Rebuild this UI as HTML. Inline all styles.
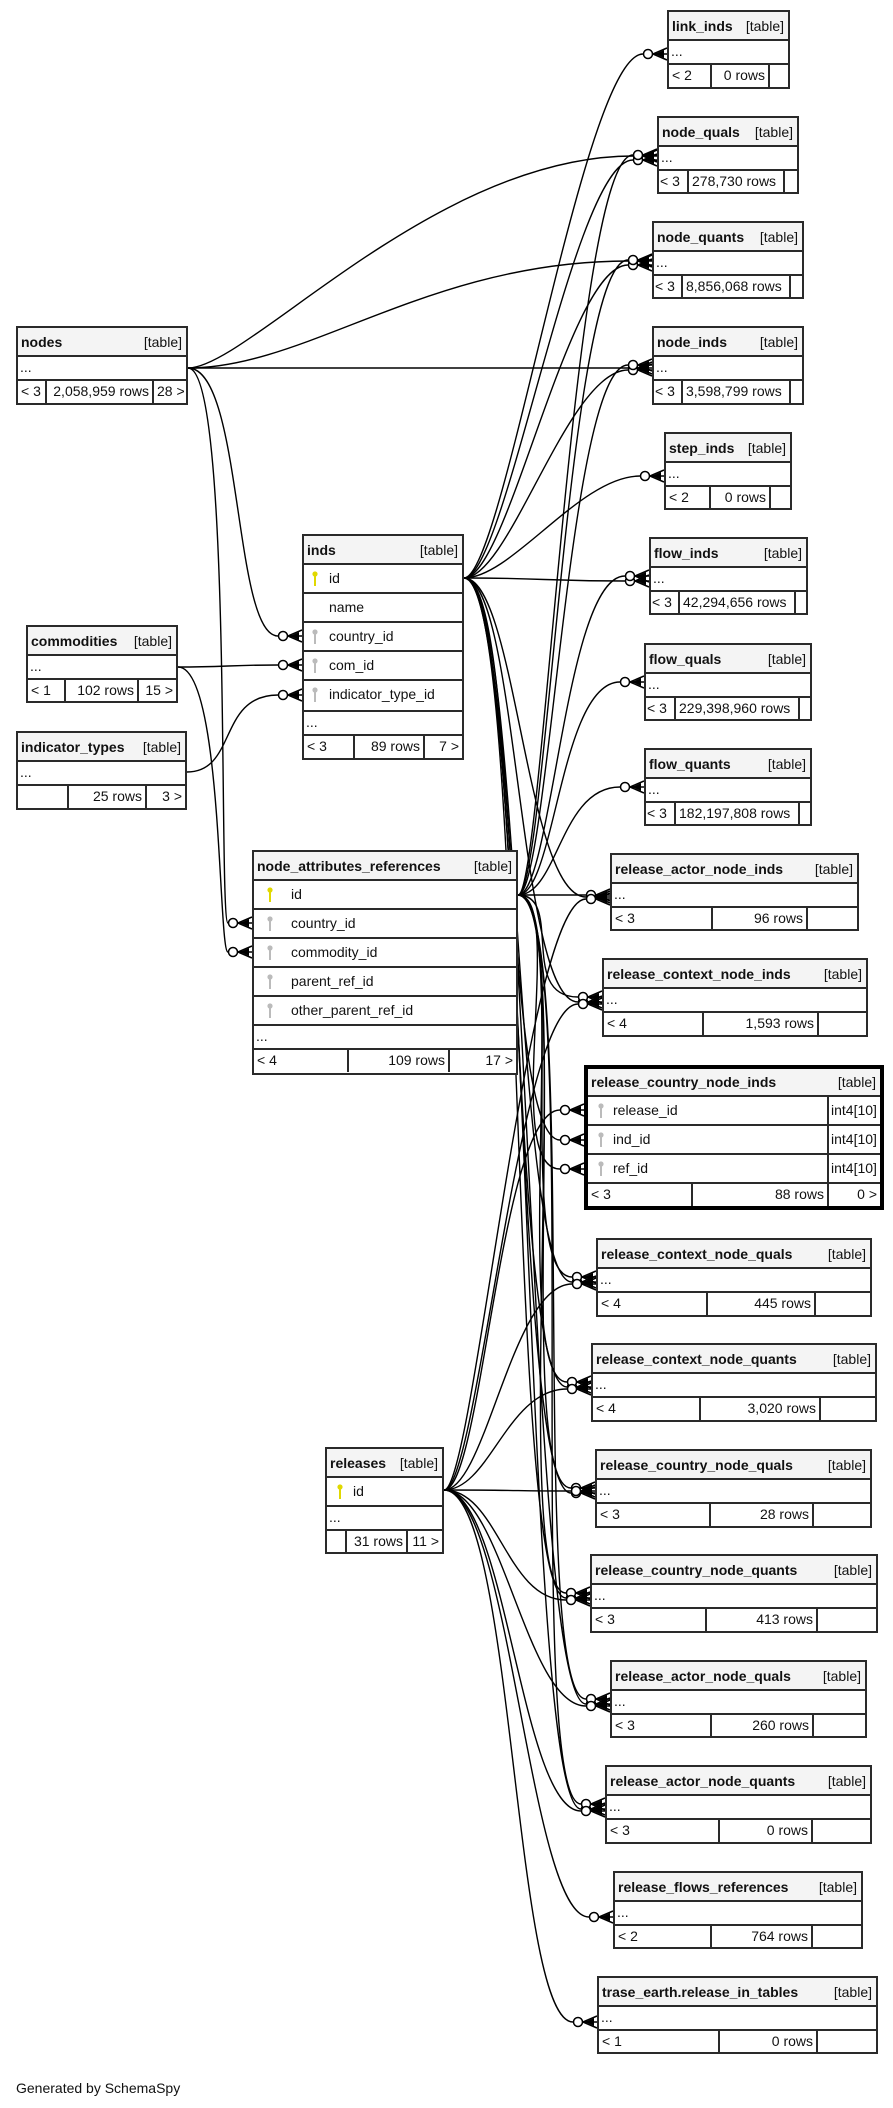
<!DOCTYPE html>
<html><head><meta charset="utf-8">
<style>
body{margin:0;background:#fff;width:893px;height:2108px;position:relative;overflow:hidden;font-family:"Liberation Sans",Arial,sans-serif;font-size:14px;color:#111}
svg{position:absolute;left:0;top:0}
.t{position:absolute;border:2px solid #2a2a2a;box-sizing:border-box;background:#fff}
.t.k{border:4px solid #000}
.h{height:27px;background:#f4f4f4;display:flex;justify-content:space-between;align-items:center;padding:0 4px 0 3px;box-sizing:border-box}
.h b{font-weight:bold}
.r{height:24px;border-top:2px solid #2a2a2a;box-sizing:border-box;padding-left:2px;line-height:20px;position:relative}
.c{height:29px;border-top:2px solid #2a2a2a;box-sizing:border-box;line-height:26px;position:relative}
.c .n{position:absolute;top:0}
.c .ty{position:absolute;top:0;bottom:0;border-left:2px solid #2a2a2a;padding-left:2px;box-sizing:border-box}
.f{height:24px;border-top:2px solid #2a2a2a;box-sizing:border-box;display:flex;line-height:21px}
.f span{box-sizing:border-box;padding:0 3px;white-space:nowrap;overflow:hidden}
.f span+span{border-left:2px solid #2a2a2a;text-align:right}
.key{position:absolute;top:6px;width:6px;height:16px}
</style></head><body>
<svg id="s" width="893" height="2108"></svg>

<!-- nodes -->
<div class="t" style="left:16px;top:326px;width:172px;height:79px"><div class="h"><b>nodes</b><span>[table]</span></div><div class="r">...</div><div class="f"><span style="width:27px">&lt; 3</span><span style="width:107px">2,058,959 rows</span><span style="flex:1">28 &gt;</span></div></div>

<!-- commodities -->
<div class="t" style="left:26px;top:625px;width:152px;height:78px"><div class="h"><b>commodities</b><span>[table]</span></div><div class="r">...</div><div class="f"><span style="width:36px;text-align:left">&lt; 1</span><span style="width:73px">102 rows</span><span style="flex:1">15 &gt;</span></div></div>

<!-- indicator_types -->
<div class="t" style="left:16px;top:731px;width:171px;height:79px"><div class="h"><b>indicator_types</b><span>[table]</span></div><div class="r">...</div><div class="f"><span style="width:49px"></span><span style="width:78px">25 rows</span><span style="flex:1">3 &gt;</span></div></div>

<!-- inds -->
<div class="t" style="left:302px;top:534px;width:162px;height:226px"><div class="h"><b>inds</b><span>[table]</span></div>
<div class="c"><svg class="key" style="left:8px" viewBox="0 0 6 16"><circle cx="3" cy="3" r="2.6" fill="#e0d800"/><rect x="2" y="4" width="2" height="11" fill="#e0d800"/></svg><span class="n" style="left:25px">id</span></div>
<div class="c"><span class="n" style="left:25px">name</span></div>
<div class="c"><svg class="key" style="left:8px" viewBox="0 0 6 16"><circle cx="3" cy="3" r="2.6" fill="#bbb"/><rect x="2" y="4" width="2" height="11" fill="#bbb"/></svg><span class="n" style="left:25px">country_id</span></div>
<div class="c"><svg class="key" style="left:8px" viewBox="0 0 6 16"><circle cx="3" cy="3" r="2.6" fill="#bbb"/><rect x="2" y="4" width="2" height="11" fill="#bbb"/></svg><span class="n" style="left:25px">com_id</span></div>
<div class="c" style="height:31px"><svg class="key" style="left:8px" viewBox="0 0 6 16"><circle cx="3" cy="3" r="2.6" fill="#bbb"/><rect x="2" y="4" width="2" height="11" fill="#bbb"/></svg><span class="n" style="left:25px">indicator_type_id</span></div>
<div class="r">...</div>
<div class="f"><span style="width:49px;text-align:left">&lt; 3</span><span style="width:70px">89 rows</span><span style="flex:1">7 &gt;</span></div></div>

<!-- node_attributes_references -->
<div class="t" style="left:252px;top:850px;width:266px;height:225px"><div class="h"><b>node_attributes_references</b><span>[table]</span></div>
<div class="c"><svg class="key" style="left:13px" viewBox="0 0 6 16"><circle cx="3" cy="3" r="2.6" fill="#e0d800"/><rect x="2" y="4" width="2" height="11" fill="#e0d800"/></svg><span class="n" style="left:37px">id</span></div>
<div class="c"><svg class="key" style="left:13px" viewBox="0 0 6 16"><circle cx="3" cy="3" r="2.6" fill="#bbb"/><rect x="2" y="4" width="2" height="11" fill="#bbb"/></svg><span class="n" style="left:37px">country_id</span></div>
<div class="c"><svg class="key" style="left:13px" viewBox="0 0 6 16"><circle cx="3" cy="3" r="2.6" fill="#bbb"/><rect x="2" y="4" width="2" height="11" fill="#bbb"/></svg><span class="n" style="left:37px">commodity_id</span></div>
<div class="c"><svg class="key" style="left:13px" viewBox="0 0 6 16"><circle cx="3" cy="3" r="2.6" fill="#bbb"/><rect x="2" y="4" width="2" height="11" fill="#bbb"/></svg><span class="n" style="left:37px">parent_ref_id</span></div>
<div class="c"><svg class="key" style="left:13px" viewBox="0 0 6 16"><circle cx="3" cy="3" r="2.6" fill="#bbb"/><rect x="2" y="4" width="2" height="11" fill="#bbb"/></svg><span class="n" style="left:37px">other_parent_ref_id</span></div>
<div class="r">...</div>
<div class="f"><span style="width:93px;text-align:left">&lt; 4</span><span style="width:101px">109 rows</span><span style="flex:1">17 &gt;</span></div></div>

<!-- releases -->
<div class="t" style="left:325px;top:1447px;width:119px;height:107px"><div class="h"><b>releases</b><span>[table]</span></div>
<div class="c"><svg class="key" style="left:10px" viewBox="0 0 6 16"><circle cx="3" cy="3" r="2.6" fill="#e0d800"/><rect x="2" y="4" width="2" height="11" fill="#e0d800"/></svg><span class="n" style="left:26px">id</span></div>
<div class="r">...</div>
<div class="f"><span style="width:18px"></span><span style="width:61px">31 rows</span><span style="flex:1">11 &gt;</span></div></div>

<!-- right side -->
<div class="t" style="left:667px;top:10px;width:123px;height:79px"><div class="h"><b>link_inds</b><span>[table]</span></div><div class="r">...</div><div class="f"><span style="width:41px;text-align:left">&lt; 2</span><span style="width:58px">0 rows</span><span style="flex:1"></span></div></div>

<div class="t" style="left:657px;top:116px;width:142px;height:78px"><div class="h"><b>node_quals</b><span>[table]</span></div><div class="r">...</div><div class="f"><span style="width:28px;padding:0 1px">&lt; 3</span><span style="width:96px;text-align:left">278,730 rows</span><span style="flex:1"></span></div></div>

<div class="t" style="left:652px;top:221px;width:152px;height:78px"><div class="h"><b>node_quants</b><span>[table]</span></div><div class="r">...</div><div class="f"><span style="width:27px;padding:0 1px">&lt; 3</span><span style="width:108px;text-align:left">8,856,068 rows</span><span style="flex:1"></span></div></div>

<div class="t" style="left:652px;top:326px;width:152px;height:79px"><div class="h"><b>node_inds</b><span>[table]</span></div><div class="r">...</div><div class="f"><span style="width:27px;padding:0 1px">&lt; 3</span><span style="width:108px;text-align:left">3,598,799 rows</span><span style="flex:1"></span></div></div>

<div class="t" style="left:664px;top:432px;width:128px;height:78px"><div class="h"><b>step_inds</b><span>[table]</span></div><div class="r">...</div><div class="f"><span style="width:43px;text-align:left">&lt; 2</span><span style="width:60px">0 rows</span><span style="flex:1"></span></div></div>

<div class="t" style="left:649px;top:537px;width:159px;height:78px"><div class="h"><b>flow_inds</b><span>[table]</span></div><div class="r">...</div><div class="f"><span style="width:27px;padding:0 1px">&lt; 3</span><span style="width:116px;text-align:left">42,294,656 rows</span><span style="flex:1"></span></div></div>

<div class="t" style="left:644px;top:643px;width:168px;height:78px"><div class="h"><b>flow_quals</b><span>[table]</span></div><div class="r">...</div><div class="f"><span style="width:28px;padding:0 1px">&lt; 3</span><span style="width:124px;text-align:left">229,398,960 rows</span><span style="flex:1"></span></div></div>

<div class="t" style="left:644px;top:748px;width:168px;height:78px"><div class="h"><b>flow_quants</b><span>[table]</span></div><div class="r">...</div><div class="f"><span style="width:28px;padding:0 1px">&lt; 3</span><span style="width:124px;text-align:left">182,197,808 rows</span><span style="flex:1"></span></div></div>

<div class="t" style="left:610px;top:853px;width:249px;height:78px"><div class="h"><b>release_actor_node_inds</b><span>[table]</span></div><div class="r">...</div><div class="f"><span style="width:99px;text-align:left">&lt; 3</span><span style="width:95px">96 rows</span><span style="flex:1"></span></div></div>

<div class="t" style="left:602px;top:958px;width:266px;height:79px"><div class="h"><b>release_context_node_inds</b><span>[table]</span></div><div class="r">...</div><div class="f"><span style="width:98px;text-align:left">&lt; 4</span><span style="width:115px">1,593 rows</span><span style="flex:1"></span></div></div>

<div class="t k" style="left:584px;top:1065px;width:300px;height:145px"><div class="h" style="height:26px"><b>release_country_node_inds</b><span>[table]</span></div>
<div class="c"><svg class="key" style="left:10px" viewBox="0 0 6 16"><circle cx="3" cy="3" r="2.6" fill="#bbb"/><rect x="2" y="4" width="2" height="11" fill="#bbb"/></svg><span class="n" style="left:25px">release_id</span><span class="ty" style="left:239px;right:0">int4[10]</span></div>
<div class="c"><svg class="key" style="left:10px" viewBox="0 0 6 16"><circle cx="3" cy="3" r="2.6" fill="#bbb"/><rect x="2" y="4" width="2" height="11" fill="#bbb"/></svg><span class="n" style="left:25px">ind_id</span><span class="ty" style="left:239px;right:0">int4[10]</span></div>
<div class="c"><svg class="key" style="left:10px" viewBox="0 0 6 16"><circle cx="3" cy="3" r="2.6" fill="#bbb"/><rect x="2" y="4" width="2" height="11" fill="#bbb"/></svg><span class="n" style="left:25px">ref_id</span><span class="ty" style="left:239px;right:0">int4[10]</span></div>
<div class="f"><span style="width:103px;text-align:left">&lt; 3</span><span style="width:136px">88 rows</span><span style="flex:1">0 &gt;</span></div></div>

<div class="t" style="left:596px;top:1238px;width:276px;height:79px"><div class="h"><b>release_context_node_quals</b><span>[table]</span></div><div class="r">...</div><div class="f"><span style="width:108px;text-align:left">&lt; 4</span><span style="width:108px">445 rows</span><span style="flex:1"></span></div></div>

<div class="t" style="left:591px;top:1343px;width:286px;height:79px"><div class="h"><b>release_context_node_quants</b><span>[table]</span></div><div class="r">...</div><div class="f"><span style="width:106px;text-align:left">&lt; 4</span><span style="width:120px">3,020 rows</span><span style="flex:1"></span></div></div>

<div class="t" style="left:595px;top:1449px;width:277px;height:79px"><div class="h"><b>release_country_node_quals</b><span>[table]</span></div><div class="r">...</div><div class="f"><span style="width:112px;text-align:left">&lt; 3</span><span style="width:103px">28 rows</span><span style="flex:1"></span></div></div>

<div class="t" style="left:590px;top:1554px;width:288px;height:79px"><div class="h"><b>release_country_node_quants</b><span>[table]</span></div><div class="r">...</div><div class="f"><span style="width:113px;text-align:left">&lt; 3</span><span style="width:111px">413 rows</span><span style="flex:1"></span></div></div>

<div class="t" style="left:610px;top:1660px;width:257px;height:78px"><div class="h"><b>release_actor_node_quals</b><span>[table]</span></div><div class="r">...</div><div class="f"><span style="width:98px;text-align:left">&lt; 3</span><span style="width:102px">260 rows</span><span style="flex:1"></span></div></div>

<div class="t" style="left:605px;top:1765px;width:267px;height:79px"><div class="h"><b>release_actor_node_quants</b><span>[table]</span></div><div class="r">...</div><div class="f"><span style="width:111px;text-align:left">&lt; 3</span><span style="width:93px">0 rows</span><span style="flex:1"></span></div></div>

<div class="t" style="left:613px;top:1871px;width:250px;height:78px"><div class="h"><b>release_flows_references</b><span>[table]</span></div><div class="r">...</div><div class="f"><span style="width:95px;text-align:left">&lt; 2</span><span style="width:101px">764 rows</span><span style="flex:1"></span></div></div>

<div class="t" style="left:597px;top:1976px;width:281px;height:78px"><div class="h"><b>trase_earth.release_in_tables</b><span>[table]</span></div><div class="r">...</div><div class="f"><span style="width:119px;text-align:left">&lt; 1</span><span style="width:98px">0 rows</span><span style="flex:1"></span></div></div>

<div style="position:absolute;left:16px;top:2080px;font-size:14px">Generated by SchemaSpy</div>

<script>
var s=document.getElementById('s'),NS='http://www.w3.org/2000/svg',out='';
function E(sx,sy,tx,ty,k1,k2){
  var ex=tx-24;
  var d=Math.max(40,(ex-sx)*0.45);
  var a=k1!==undefined?k1:d, b=k2!==undefined?k2:d;
  out+='<path d="M'+sx+','+sy+' C'+(sx+a)+','+sy+' '+(ex-b)+','+ty+' '+ex+','+ty+'" fill="none" stroke="#000" stroke-width="1.4"/>';
  out+='<circle cx="'+(tx-19)+'" cy="'+ty+'" r="4.5" fill="#fff" stroke="#000" stroke-width="1.5"/>';
  out+='<path d="M'+(tx-14)+','+ty+' L'+tx+','+(ty-6)+' M'+(tx-14)+','+ty+' L'+tx+','+ty+' M'+(tx-14)+','+ty+' L'+tx+','+(ty+6)+'" stroke="#000" stroke-width="1.5" fill="none"/>';
  out+='<path d="M'+(tx-12)+','+ty+' L'+(tx-3)+','+(ty-4)+' L'+(tx-3)+','+(ty+4)+'Z" fill="#000"/>';
}
var T={link:[667,52],nq:[657,158],nqt:[652,263],ni:[652,368],si:[664,474],fi:[649,579],fq:[644,685],fqt:[644,790],
rani:[610,895],rcni:[602,1000],rcn_rel:[584,1110],rcn_ind:[584,1140],rcn_ref:[584,1169],
rcnq:[596,1280],rcnqt:[591,1385],rcoq:[595,1491],rcoqt:[590,1596],ranq:[610,1702],ranqt:[605,1807],rfr:[613,1913],te:[597,2018]};
// nodes
var N=[188,368];
E(N[0],N[1],T.nq[0],T.nq[1]-2,60,200);
E(N[0],N[1],T.nqt[0],T.nqt[1]-2,120,200);
E(N[0],N[1],T.ni[0],T.ni[1]);
E(N[0],N[1],302,636,55,45);
E(N[0],N[1],252,923,45,10);
// commodities / indicator types
E(178,667,302,665);
E(178,667,252,952,45,10);
E(187,772,302,695,50,60);
// inds.id
var I=[464,578];
['link','nq','nqt','ni','si','fi','rani','rcni','rcn_ind','rcnq','rcnqt','rcoq','rcoqt','ranq','ranqt'].forEach(function(k,i){
  var t=T[k];E(I[0],I[1],t[0],t[1]+(k=='rcn_ind'?0:2),k=='fi'?80:40+i*2,k=='fi'?80:60);});
// nar.id
var R=[518,895];
['nq','nqt','ni','fi','fq','fqt','rani','rcni','rcn_ref','rcnq','rcnqt','rcoq','rcoqt','ranq','ranqt'].forEach(function(k,i){
  var t=T[k];E(R[0],R[1],t[0],t[1]+(k=='rani'||k=='rcn_ref'?0:-3),k=='rani'?60:25+i*3,60);});
// releases.id
var L=[444,1490];
['rani','rcni','rcn_rel','rcnq','rcnqt','rcoq','rcoqt','ranq','ranqt','rfr','te'].forEach(function(k,i){
  var t=T[k];E(L[0],L[1],t[0],t[1]+(k=='rcoq'||k=='rcn_rel'?0:4),k=='rcoq'?80:30+i*4,60);});
s.innerHTML=out;
</script>
</body></html>
